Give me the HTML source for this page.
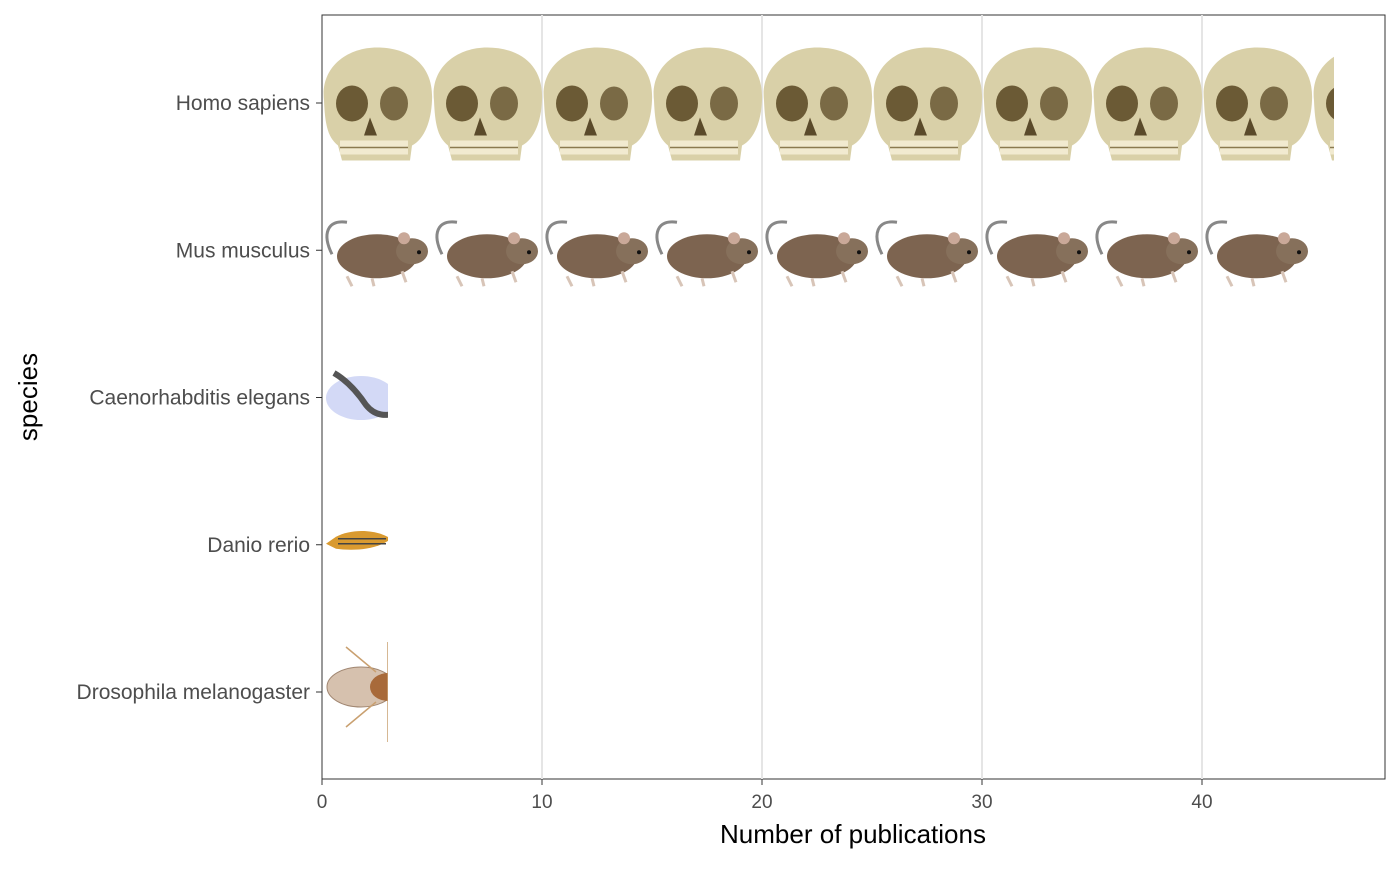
<!DOCTYPE html>
<html><head><meta charset="utf-8"><style>
body{margin:0;background:#fff;}
svg text{font-family:"Liberation Sans",Arial,sans-serif;}
</style></head><body>
<svg id="chart" width="1400" height="865" xmlns="http://www.w3.org/2000/svg">
<defs>
<g id="skull">
  <path d="M2,55 C-2,22 25,2 55,2 C88,2 112,20 110,55 C109,80 100,95 90,100 L88,115 L20,115 L16,100 C6,92 3,80 2,55 Z" fill="#d9d0a8"/>
  <ellipse cx="30" cy="58" rx="16" ry="18" fill="#6b5a35"/>
  <ellipse cx="72" cy="58" rx="14" ry="17" fill="#7a6a45"/>
  <path d="M48,72 L55,90 L42,90 Z" fill="#5a4a2a"/>
  <rect x="18" y="95" width="68" height="14" fill="#f1ead0"/>
  <path d="M18,102 L86,102" stroke="#8a7a50" stroke-width="1.5"/>
</g>
<g id="mouse">
  <path d="M10,40 C0,20 5,5 25,8" stroke="#888" stroke-width="3" fill="none"/>
  <ellipse cx="55" cy="42" rx="40" ry="22" fill="#7d6450"/>
  <ellipse cx="90" cy="37" rx="16" ry="13" fill="#86705b"/>
  <circle cx="82" cy="24" r="6" fill="#c9a898"/>
  <circle cx="97" cy="38" r="2" fill="#111"/>
  <path d="M25,62 L30,72 M50,64 L52,72 M80,57 L84,68" stroke="#d8c5b8" stroke-width="3"/>
</g>
<g id="worm">
  <ellipse cx="35" cy="33" rx="35" ry="22" fill="#b6bff0" opacity="0.6"/>
  <path d="M8,8 C20,15 30,25 40,40 C48,50 58,52 70,48" stroke="#555" stroke-width="6" fill="none"/>
</g>
<g id="fish">
  <path d="M0,15 L10,8 C25,0 50,0 65,10 C50,22 25,22 10,20 Z" fill="#d99a30"/>
  <path d="M12,10 L60,10 M12,15 L60,15" stroke="#444" stroke-width="1.5"/>
</g>
<g id="fly">
  <ellipse cx="35" cy="45" rx="34" ry="20" fill="#cdb29a" opacity="0.8" stroke="#8a6a50"/>
  <ellipse cx="62" cy="45" rx="18" ry="14" fill="#a86a3a"/>
  <path d="M20,5 L50,30 M20,85 L50,60 M62,0 L62,100" stroke="#c9a070" stroke-width="1.5"/>
</g>
</defs>
<rect x="322" y="15" width="1063" height="764" fill="#fff" stroke="#333" stroke-width="1"/>
<g id="grid"></g>
<g id="bars"></g>
<g id="axes"></g>
<text x="853" y="843" font-size="26" text-anchor="middle" fill="#000">Number of publications</text>
<text x="0" y="0" font-size="26" text-anchor="middle" fill="#000" transform="translate(37,397) rotate(-90)">species</text>
</svg>
<script>
const categories = ["Homo sapiens","Mus musculus","Caenorhabditis elegans","Danio rerio","Drosophila melanogaster"];
const values = [46, 45, 3, 3, 3];
const glyphs = ["skull","mouse","worm","fish","fly"];
const xTicks = [0,10,20,30,40];
const NS="http://www.w3.org/2000/svg";
const x0=322, pxPerUnit=22;
const xs=v=>x0+v*pxPerUnit;
const rowY=i=>103+i*147.25;
const gH=[115,72,65,32,100];
const grid=document.getElementById('grid'), bars=document.getElementById('bars'), axes=document.getElementById('axes');
function mk(t,a,p){const e=document.createElementNS(NS,t);for(const k in a)e.setAttribute(k,a[k]);p.appendChild(e);return e;}
xTicks.forEach(t=>{
  if(t>0){const l=mk('line',{x1:xs(t),x2:xs(t),y1:15,y2:779,stroke:'#e5e5e5','stroke-width':2},grid);
  
  }
  mk('line',{x1:xs(t),x2:xs(t),y1:779,y2:785,stroke:'#333'},axes);
  const tx=mk('text',{x:xs(t),y:808,'font-size':19,'text-anchor':'middle',fill:'#4d4d4d'},axes);
  tx.textContent=t;
  
  
});
categories.forEach((c,i)=>{
  const y=rowY(i);
  mk('line',{x1:316,x2:322,y1:y,y2:y,stroke:'#333'},axes);
  const tx=mk('text',{x:310,y:y+7,'font-size':21,'text-anchor':'end',fill:'#4d4d4d'},axes);
  tx.textContent=c;
  
  
  const cp=mk('clipPath',{id:'clip'+i},bars);
  mk('rect',{x:x0,y:y-80,width:xs(values[i])-x0,height:160},cp);
  const g=mk('g',{'clip-path':'url(#clip'+i+')'},bars);
  
  
  const n=Math.ceil(values[i]/5);
  for(let k=0;k<n;k++){
    const gx=xs(k*5)+(i<2?0:4);
    mk('use',{href:'#'+glyphs[i],x:gx,y:y-gH[i]/2},g);
  }
});
</script>
</body></html>
